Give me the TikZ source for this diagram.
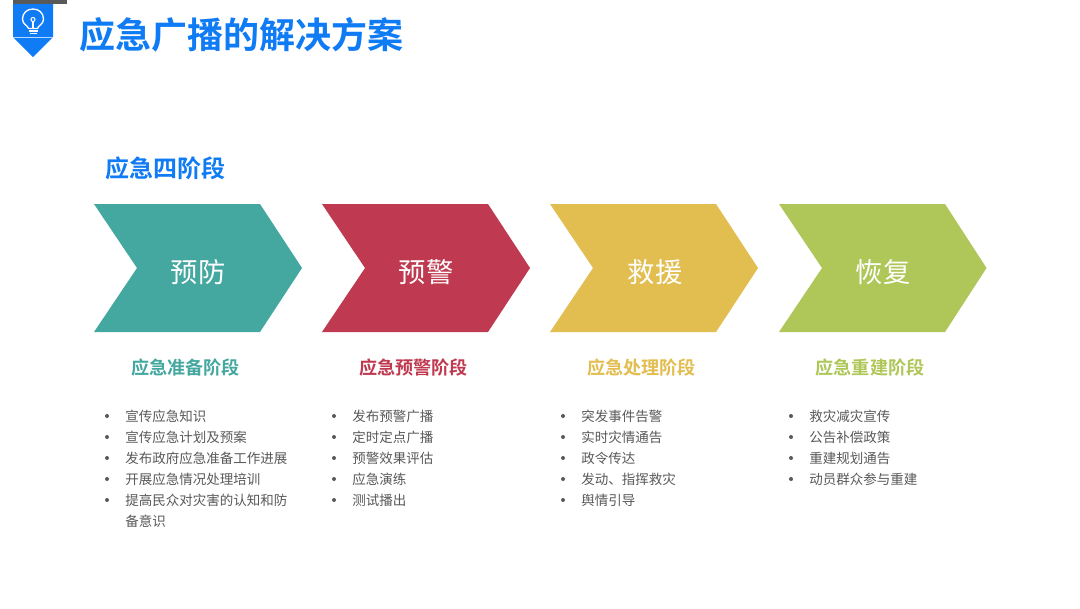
\documentclass[tikz,border=0pt]{standalone}
\usepackage{fontspec}
\setmainfont{Noto Sans CJK SC}
\newfontfamily\cjkbold{Noto Sans CJK SC Bold}
\definecolor{ctitle}{HTML}{0F7BF5}
\definecolor{cteal}{HTML}{45A8A0}
\definecolor{cred}{HTML}{BF3A50}
\definecolor{cyel}{HTML}{E2BD4F}
\definecolor{cgrn}{HTML}{AFC658}
\definecolor{ctxt}{HTML}{595959}
\tikzset{
 heading/.style={anchor=center,inner sep=0pt,font=\fontsize{13.6pt}{16pt}\cjkbold},
 chevlabel/.style={anchor=center,inner sep=0pt,text=white,font=\fontsize{20.5pt}{24pt}\selectfont},
 item/.style={anchor=west,inner sep=0pt,text=ctxt,font=\fontsize{10.13pt}{12pt}\selectfont},
 dotmark/.style={circle,fill=ctxt,inner sep=0pt,minimum size=3pt}
}
\newcommand{\listrow}[4]{%
 \node[dotmark] (#4d) at (#1+13,#2) {};
 \node[item] (#4) at (#1+31,#2) {#3};
}
\begin{document}
\begin{tikzpicture}[x=0.75pt,y=-0.75pt]
\useasboundingbox (0,0) rectangle (1080,608);
\fill[white] (0,0) rectangle (1080,608);
% badge
\fill[ctitle] (13,0) -- (53,0) -- (53,37) -- (33,57) -- (13,37) -- cycle;
\fill[black!65] (13,0) rectangle (67,3.5);
\draw[white,line width=1pt] (28.5,28.5) .. controls (27.5,25) and (22.5,24.5) .. (22.5,19) .. controls (22.5,13) and (27,9) .. (33,9) .. controls (39,9) and (43.5,13) .. (43.5,19) .. controls (43.5,24.5) and (38.5,25) .. (37.5,28.5) -- cycle;
\draw[white,line width=0.8pt] (33,28.5) -- (33,21.5);
\draw[white,line width=0.8pt] (33,19.5) circle (2);
\draw[white,line width=0.9pt] (28.5,31) -- (37.5,31) (29.5,33.5) -- (36.5,33.5);
\draw[white!70!ctitle,line width=0.3pt] (13,37) -- (53,37);
% titles
\node[anchor=west,inner sep=0pt,text=ctitle,font=\fontsize{27pt}{32pt}\cjkbold] (title) at (79,35) {应急广播的解决方案};
\node[anchor=west,inner sep=0pt,text=ctitle,font=\fontsize{18pt}{22pt}\cjkbold] (sub) at (105,168) {应急四阶段};
% chevrons
\fill[cteal] (94,204) -- (260,204) -- (302,268) -- (260,332) -- (94,332) -- (137,268) -- cycle;
\fill[cred] (322,204) -- (488,204) -- (530,268) -- (488,332) -- (322,332) -- (365,268) -- cycle;
\fill[cyel] (550,204) -- (716,204) -- (758,268) -- (716,332) -- (550,332) -- (593,268) -- cycle;
\fill[cgrn] (779,204) -- (945,204) -- (986.5,268) -- (945,332) -- (779,332) -- (822,268) -- cycle;
\node[chevlabel] (a) at (198,272) {预防};
\node[chevlabel] (b) at (426,272) {预警};
\node[chevlabel] (c) at (655,272) {救援};
\node[chevlabel] (d) at (883,272) {恢复};
% headings
\node[heading,text=cteal] (ah) at (185.5,368) {应急准备阶段};
\node[heading,text=cred] (bh) at (413.5,368) {应急预警阶段};
\node[heading,text=cyel] (ch) at (641.5,368) {应急处理阶段};
\node[heading,text=cgrn] (dh) at (870,368) {应急重建阶段};
% lists
\listrow{94}{416}{宣传应急知识}{a1}
\listrow{94}{437}{宣传应急计划及预案}{a2}
\listrow{94}{458}{发布政府应急准备工作进展}{a3}
\listrow{94}{479}{开展应急情况处理培训}{a4}
\listrow{94}{500}{提高民众对灾害的认知和防}{a5}
\node[item] (a6) at (125,521) {备意识};
\listrow{321}{416}{发布预警广播}{b1}
\listrow{321}{437}{定时定点广播}{b2}
\listrow{321}{458}{预警效果评估}{b3}
\listrow{321}{479}{应急演练}{b4}
\listrow{321}{500}{测试播出}{b5}
\listrow{550}{416}{突发事件告警}{c1}
\listrow{550}{437}{实时灾情通告}{c2}
\listrow{550}{458}{政令传达}{c3}
\listrow{550}{479}{发动、指挥救灾}{c4}
\listrow{550}{500}{舆情引导}{c5}
\listrow{778}{416}{救灾减灾宣传}{d1}
\listrow{778}{437}{公告补偿政策}{d2}
\listrow{778}{458}{重建规划通告}{d3}
\listrow{778}{479}{动员群众参与重建}{d4}
\end{tikzpicture}
\end{document}
